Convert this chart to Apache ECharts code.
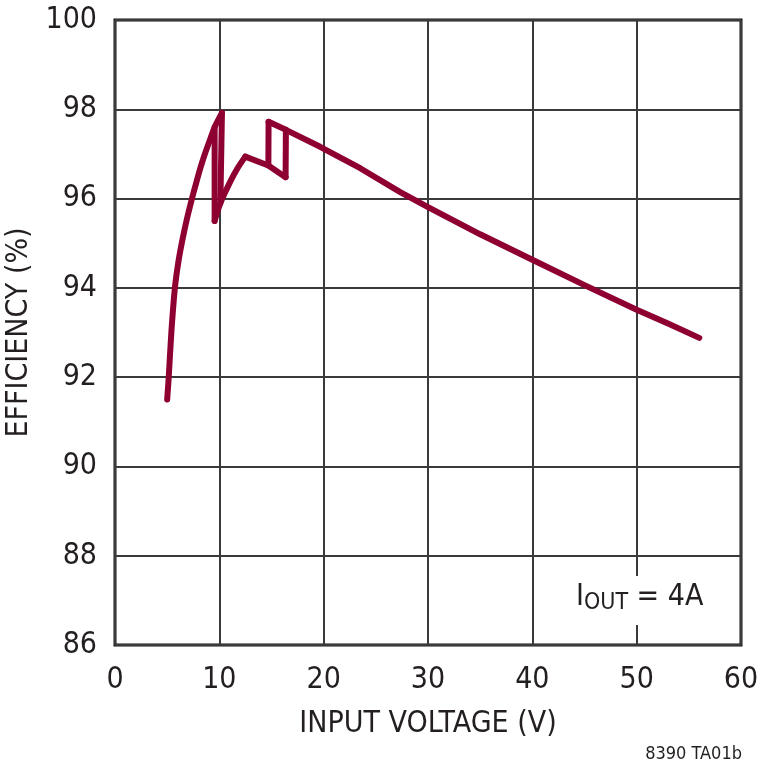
<!DOCTYPE html>
<html><head><meta charset="utf-8">
<script src="https://cdn.jsdelivr.net/npm/echarts@6/dist/echarts.min.js"></script>
<style>html,body{margin:0;padding:0;background:#fff}#c{width:760px;height:770px}</style>
</head><body><div id="c"></div>
<script>
var FONT = "'Liberation Sans Narrow','DejaVu Sans Condensed','Liberation Sans',sans-serif";
var xTicks = [0, 10, 20, 30, 40, 50, 60];
var yTicks = [86, 88, 90, 92, 94, 96, 98, 100];
// boost-mode branch (rising)
var boostCurve = [[5.0,91.5],[5.15,92.0],[5.4,93.0],[5.74,94.0],[6.1,94.62],[6.5,95.12],[6.9,95.55],[7.3,95.93],[7.7,96.28],[8.18,96.68],[8.66,97.03],[9.14,97.34],[9.55,97.6],[10.25,97.92]];
// transition drops near 10 V
var dropA = [[10.25,97.92],[10.1,95.9]];
var dropB = [[9.55,97.6],[9.55,95.5]];
// buck-boost branch
var buckBoost = [[9.55,95.5],[10.1,95.9],[11.05,96.38],[11.8,96.7],[12.49,96.94]];
var buckBoost2 = [[12.49,96.94],[14.7,96.74],[16.35,96.48]];
// transition jumps near 15-16 V
var jumpA = [[14.7,96.74],[14.72,97.72]];
var jumpB = [[16.35,96.48],[16.38,97.54]];
// buck-mode branch (falling)
var buckCurve = [[14.72,97.72],[16.38,97.54],[19.66,97.16],[23.5,96.68],[27.3,96.15],[30,95.81],[35,95.2],[40,94.63],[45,94.06],[50,93.51],[53,93.2],[56,92.88]];

var COLOR = '#8f0032';
function seg(d, sm){return {type:'line',data:d,showSymbol:false,symbol:'none',smooth:sm||false,lineStyle:{color:COLOR,width:6,cap:'round',join:'round'},itemStyle:{color:COLOR},animation:false,z:3};}

var chart = echarts.init(document.getElementById('c'));
chart.setOption({
  backgroundColor:'#fff',
  animation:false,
  grid:{left:115,right:19,top:20,bottom:125,outerBoundsMode:'none',containLabel:false,show:true,borderColor:'#111',borderWidth:3,backgroundColor:'transparent'},
  xAxis:{type:'value',min:xTicks[0],max:xTicks[xTicks.length-1],interval:10,
    axisLine:{show:false},axisTick:{show:false},
    axisLabel:{color:'#231f20',fontSize:30,fontFamily:FONT,margin:20},
    splitLine:{show:true,lineStyle:{color:'#3a3a3a',width:2}},
    name:'INPUT VOLTAGE (V)',nameLocation:'middle',nameGap:64,
    nameTextStyle:{color:'#231f20',fontSize:30,fontFamily:FONT}},
  yAxis:{type:'value',min:yTicks[0],max:yTicks[yTicks.length-1],interval:2,
    axisLine:{show:false},axisTick:{show:false},
    axisLabel:{color:'#231f20',fontSize:30,fontFamily:FONT,margin:18},
    splitLine:{show:true,lineStyle:{color:'#3a3a3a',width:2}},
    name:'EFFICIENCY (%)',nameLocation:'middle',nameGap:80,
    nameTextStyle:{color:'#231f20',fontSize:30,fontFamily:FONT}},
  graphic:[
    {type:'text',left:572,top:576,z:10,style:{
      rich:{
        i:{fontSize:30,fontFamily:FONT,fill:'#231f20'},
        s:{fontSize:23,fontFamily:FONT,fill:'#231f20',padding:[12,0,0,0]},
        n:{fontSize:30,fontFamily:FONT,fill:'#231f20'}
      },
      text:'{i|I}{s|OUT}{n| = 4A}',
      backgroundColor:'#fff',padding:[4,4,10,4]
    }},
    {type:'text',right:18,top:745,style:{text:'8390 TA01b',fontSize:18,fontFamily:FONT,fill:'#231f20'}}
  ],
  series:[seg(boostCurve,0.3),seg(dropA),seg(dropB),seg(buckBoost,0.3),seg(buckBoost2),seg(jumpA),seg(jumpB),seg(buckCurve)]
});
</script></body></html>
